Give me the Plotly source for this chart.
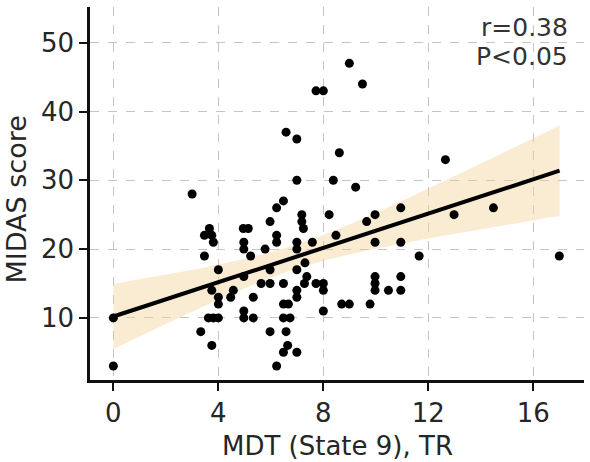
import numpy as np
import plotly.graph_objects as go

mdt = [0, 0, 3.0, 3.33, 3.47, 3.47, 3.62, 3.66, 3.75, 3.75, 3.75, 3.81, 3.81,
       4.0, 4.0, 4.0, 4.0, 4.47, 4.57, 4.95, 5.14, 4.97, 4.97, 4.97, 4.97, 4.97,
       5.23, 5.33, 5.33, 5.63, 5.78, 5.97, 5.97, 5.97, 5.97, 6.22, 6.22, 6.22, 6.22,
       6.48, 6.48, 6.48, 6.48, 6.48, 6.58, 6.58, 6.64, 6.67, 6.73,
       6.99, 6.99, 6.99, 6.99, 6.99, 6.99, 6.99, 6.99, 7.18, 7.18, 7.24, 7.30, 7.37,
       7.28, 7.58, 7.72, 7.72, 8.0, 8.0, 8.0, 8.0, 8.22, 8.38, 8.48, 8.61, 8.70,
       8.99, 8.99, 9.23, 9.49, 9.65, 9.78, 9.97, 9.97, 9.97, 9.97, 9.97, 10.48,
       10.95, 10.95, 10.95, 10.95, 11.65, 12.65, 12.98, 14.48, 16.99]
midas = [10, 3, 28, 8, 22, 19, 10, 23, 22, 14, 6, 21, 10,
         17, 13, 12, 10, 13, 14, 23, 23, 21, 20, 16, 11, 10,
         19, 13, 10, 15, 20, 24, 17, 15, 8, 26, 22, 21, 3,
         27, 15, 12, 10, 5, 37, 8, 6, 12, 10,
         36, 30, 21, 20, 17, 14, 13, 5, 25, 24, 23, 18, 16,
         15, 21, 15, 43, 43, 15, 14, 11, 25, 30, 22, 34, 12,
         12, 47, 29, 44, 24, 12, 25, 21, 16, 15, 14, 14,
         26, 21, 16, 14, 19, 33, 25, 26, 19]

# fitted regression line as drawn in the reference (values at its two ends)
fit_line_x = [0, 17]
fit_line_y = [10.2, 31.4]

x_ticks = [0, 4, 8, 12, 16]
y_ticks = [10, 20, 30, 40, 50]
stat_lines = ["r=0.38", "P<0.05"]

x = np.array(mdt, dtype=float)
y = np.array(midas, dtype=float)
n = len(x)
b = (fit_line_y[1] - fit_line_y[0]) / (fit_line_x[1] - fit_line_x[0])
a = fit_line_y[0] - b * fit_line_x[0]
resid = y - (a + b * x)
s = np.sqrt(np.sum(resid ** 2) / (n - 2))
xbar = x.mean()
sxx = np.sum((x - xbar) ** 2)
t_crit = 1.986
xs = np.linspace(fit_line_x[0], fit_line_x[1], 100)
yhat = a + b * xs
se = s * np.sqrt(1.0 / n + (xs - xbar) ** 2 / sxx)
upper = yhat + t_crit * se
lower = yhat - t_crit * se

fig = go.Figure()
fig.add_trace(go.Scatter(
    x=np.concatenate([xs, xs[::-1]]), y=np.concatenate([upper, lower[::-1]]),
    fill="toself", fillcolor="rgba(244,208,150,0.42)", line=dict(width=0),
    hoverinfo="skip", showlegend=False, mode="lines"))
fig.add_trace(go.Scatter(x=x, y=y, mode="markers",
                         marker=dict(color="black", size=9), showlegend=False))
fig.add_trace(go.Scatter(x=fit_line_x, y=fit_line_y, mode="lines",
                         line=dict(color="black", width=4), showlegend=False))

fig.add_annotation(text=stat_lines[0], xref="paper", yref="paper", x=1, y=1,
                   xanchor="right", yanchor="middle", xshift=-14, yshift=-20,
                   showarrow=False, font=dict(size=25, color="#333333"))
fig.add_annotation(text=stat_lines[1], xref="paper", yref="paper", x=1, y=1,
                   xanchor="right", yanchor="middle", xshift=-14, yshift=-49,
                   showarrow=False, font=dict(size=25, color="#333333"))
fig.add_annotation(text="MDT (State 9), TR", xref="paper", yref="paper", x=0.5, y=0,
                   xanchor="center", yanchor="middle", yshift=-66,
                   showarrow=False, font=dict(size=26, color="#262626"))
fig.add_annotation(text="MIDAS score", xref="paper", yref="paper", x=0, y=0.5,
                   xanchor="center", yanchor="middle", xshift=-74, yshift=-6,
                   textangle=-90, showarrow=False, font=dict(size=27, color="#262626"))

axis_common = dict(
    showline=True, linecolor="#111111", linewidth=2.5, mirror=False,
    ticks="outside", ticklen=8, tickwidth=2, tickcolor="#111111",
    showgrid=True, gridcolor="#c4c4c4", gridwidth=1, griddash="dash",
    zeroline=False, tickfont=dict(size=26, color="#262626"),
)
fig.update_xaxes(range=[-0.89, 17.93], tickvals=x_ticks, ticklabelstandoff=0, **axis_common)
fig.update_yaxes(range=[0.97, 55.19], tickvals=y_ticks, ticklabelstandoff=0, **axis_common)

fig.update_layout(
    width=590, height=462, margin=dict(l=90, r=6, t=7, b=82),
    plot_bgcolor="white", paper_bgcolor="white",
    font=dict(family="DejaVu Sans"),
)
fig.write_html("out.html")
